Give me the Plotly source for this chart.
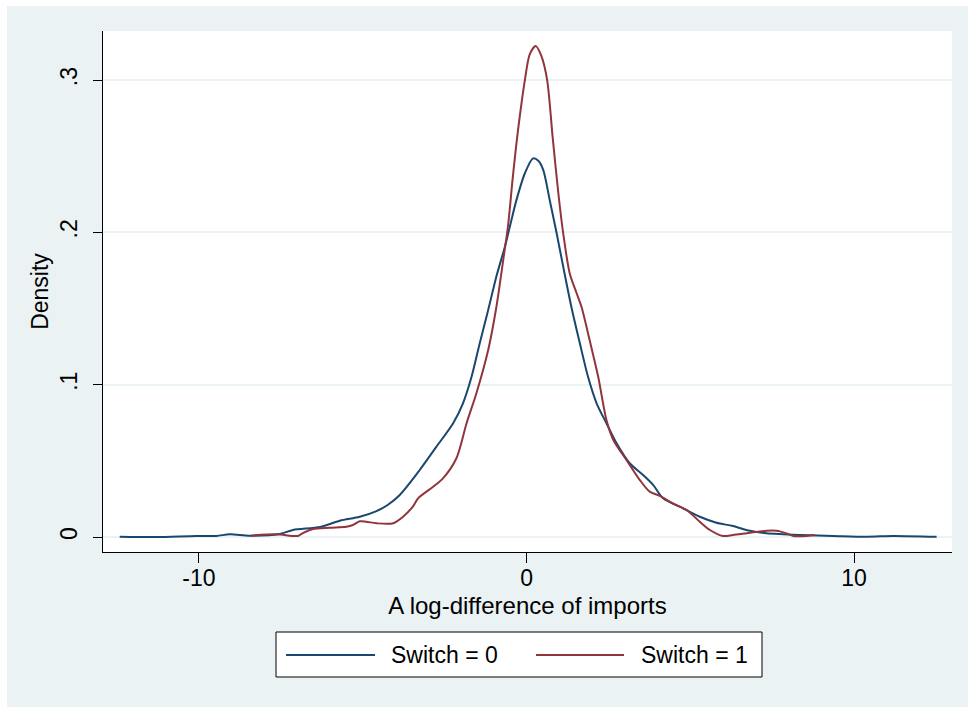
import plotly.graph_objects as go

# ---- data ----
series_names = ["Switch = 0", "Switch = 1"]

x_switch0 = [-12.42, -11.3, -10.08, -9.47, -9.06, -8.45, -7.53, -7.13, -6.3, -5.7,
             -5.09, -4.58, -4.24, -3.87, -3.26, -2.75, -2.24, -1.94, -1.68, -1.43,
             -1.17, -0.92, -0.66, -0.51, -0.31, -0.05, 0.2, 0.36, 0.51, 0.71, 0.92, 1.12,
             1.37, 1.63, 1.88, 2.14, 2.44, 2.75, 3.15, 3.56, 3.87, 4.17,
             4.78, 5.29, 5.8, 6.3, 6.82, 7.32, 7.83, 8.35, 9.36, 10.4,
             11.2, 12.52]
y_switch0 = [0.0002, 0.0000, 0.0007, 0.0007, 0.0018, 0.0009, 0.0020, 0.0046, 0.0066, 0.0107,
             0.0133, 0.0170, 0.0210, 0.0276, 0.0440, 0.0593, 0.0747, 0.0878, 0.1050, 0.1270,
             0.1490, 0.1710, 0.1906, 0.2037, 0.2210, 0.2388, 0.2486, 0.2470, 0.2410, 0.2210, 0.1994, 0.1775,
             0.1510, 0.1270, 0.1050, 0.0878, 0.0747, 0.0615, 0.0484, 0.0407, 0.0341, 0.0254,
             0.0188, 0.0133, 0.0094, 0.0072, 0.0041, 0.0024, 0.0018, 0.0013, 0.0007, 0.0002,
             0.0007, 0.0001]

x_switch1 = [-8.4, -7.63, -6.98, -6.83, -6.52, -6.0, -5.5, -5.3, -5.09, -4.89,
             -4.58, -4.07, -3.77, -3.47, -3.31, -2.85, -2.55, -2.14, -1.83, -1.53,
             -1.17, -0.92, -0.71, -0.56, -0.42, -0.26, -0.05, 0.1, 0.28,
             0.45, 0.63, 0.8, 0.97, 1.12, 1.32, 1.53, 1.68, 1.93, 2.19,
             2.44, 2.65, 3.05, 3.46, 3.76, 4.07, 4.47, 4.89, 5.29, 5.6,
             6.0, 6.3, 6.82, 7.33, 7.63, 7.94, 8.14, 8.55, 8.8]
y_switch1 = [0.0010, 0.0018, 0.0007, 0.0026, 0.0052, 0.0061, 0.0068, 0.0079, 0.0103, 0.0100,
             0.0090, 0.0090, 0.0133, 0.0200, 0.0254, 0.0330, 0.0385, 0.0517, 0.0747, 0.0944,
             0.1228, 0.1510, 0.1820, 0.2050, 0.2360, 0.2670, 0.3000, 0.3170, 0.3224,
             0.3160, 0.3000, 0.2620, 0.2260, 0.1994, 0.1730, 0.1600, 0.1510, 0.1290, 0.1050,
             0.0768, 0.0637, 0.0506, 0.0374, 0.0298, 0.0270, 0.0220, 0.0177, 0.0100, 0.0046,
             0.0007, 0.0013, 0.0028, 0.0041, 0.0041, 0.0024, 0.0007, 0.0007, 0.0013]

x_tick_vals = [-10, 0, 10]
x_tick_text = ["-10", "0", "10"]
y_tick_vals = [0, 0.1, 0.2, 0.3]
y_tick_text = ["0", ".1", ".2", ".3"]

x_title = "A log-difference of imports"
y_title = "Density"

# ---- style ----
BLUE = "#1A476F"
RED = "#90353B"
BG = "#EAF2F3"
FONT = "Liberation Sans, Arial, Helvetica, sans-serif"
FS = 23

W, H = 968, 707
L, R, T, B = 103, 952, 31, 552  # plot area pixel bounds


def px(p):
    return (p - L) / (R - L)


def py(q):
    return (B - q) / (B - T)


fig = go.Figure()
fig.add_trace(go.Scatter(x=x_switch0, y=y_switch0, mode="lines", name=series_names[0],
                         line=dict(color=BLUE, width=2, shape="spline", smoothing=0.8),
                         showlegend=False))
fig.add_trace(go.Scatter(x=x_switch1, y=y_switch1, mode="lines", name=series_names[1],
                         line=dict(color=RED, width=2, shape="spline", smoothing=0.8),
                         showlegend=False))

shapes = [
    # white strips outside the Stata graph region (top and left)
    dict(type="rect", xref="paper", yref="paper", x0=px(-5), x1=px(975), y0=py(6), y1=py(-5),
         fillcolor="white", line=dict(width=0), layer="above"),
    dict(type="rect", xref="paper", yref="paper", x0=px(-5), x1=px(7), y0=py(712), y1=py(-5),
         fillcolor="white", line=dict(width=0), layer="above"),
    # legend box
    dict(type="rect", xref="paper", yref="paper", x0=px(276), x1=px(762), y0=py(677), y1=py(632),
         fillcolor="white", line=dict(color="black", width=1), layer="above"),
    dict(type="line", xref="paper", yref="paper", x0=px(286), x1=px(375), y0=py(655), y1=py(655),
         line=dict(color=BLUE, width=2), layer="above"),
    dict(type="line", xref="paper", yref="paper", x0=px(536), x1=px(624), y0=py(655), y1=py(655),
         line=dict(color=RED, width=2), layer="above"),
]

annotations = [
    dict(xref="paper", yref="paper", x=px(389), y=py(655), text=series_names[0], showarrow=False,
         xanchor="left", yanchor="middle", font=dict(family=FONT, size=FS, color="black")),
    dict(xref="paper", yref="paper", x=px(639), y=py(655), text=series_names[1], showarrow=False,
         xanchor="left", yanchor="middle", font=dict(family=FONT, size=FS, color="black")),
]

fig.update_layout(
    width=W, height=H,
    margin=dict(l=L, r=W - R, t=T, b=H - B, pad=0),
    paper_bgcolor=BG,
    plot_bgcolor="white",
    font=dict(family=FONT, size=FS, color="black"),
    shapes=shapes,
    annotations=annotations,
    showlegend=False,
)

fig.update_xaxes(
    range=[-12.93, 12.99],
    tickvals=x_tick_vals, ticktext=x_tick_text,
    ticks="outside", ticklen=10, tickwidth=1, tickcolor="black",
    ticklabelstandoff=-5,
    showline=True, linecolor="black", linewidth=1,
    showgrid=False, zeroline=False,
    tickfont=dict(family=FONT, size=FS, color="black"),
    title=dict(text=x_title, font=dict(family=FONT, size=24, color="black"), standoff=7),
)
fig.update_yaxes(
    range=[-0.00985, 0.3322],
    tickvals=y_tick_vals, ticktext=y_tick_text,
    ticks="outside", ticklen=9, tickwidth=1, tickcolor="black",
    tickangle=-90,
    ticklabelstandoff=7,
    showline=True, linecolor="black", linewidth=1,
    showgrid=True, gridcolor=BG, gridwidth=2, zeroline=False,
    tickfont=dict(family=FONT, size=FS, color="black"),
    title=dict(text=y_title, font=dict(family=FONT, size=FS, color="black"), standoff=0),
)

fig.write_html("out.html", config={"displayModeBar": False},
               post_script="document.body.style.margin='0';")
